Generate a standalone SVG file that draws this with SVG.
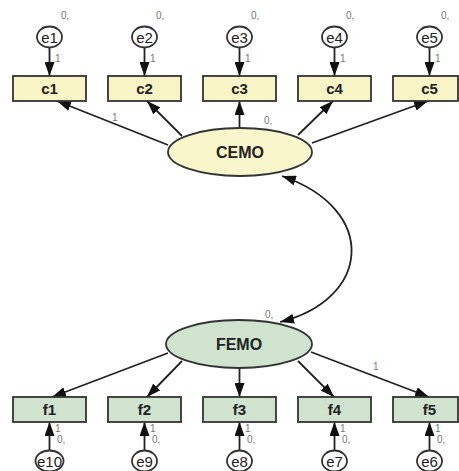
<svg xmlns="http://www.w3.org/2000/svg" width="459" height="471" viewBox="0 0 459 471">
<style>
.bg{fill:#ffffff}
.obsY{fill:#f8f4c6;stroke:#333;stroke-width:1.8}
.obsG{fill:#cfe3cf;stroke:#333;stroke-width:1.8}
.err{fill:#ffffff;stroke:#333;stroke-width:1.8}
.latY{fill:#faf6cc;stroke:#333;stroke-width:1.8}
.latG{fill:#cfe3cf;stroke:#333;stroke-width:1.8}
.lbl{font-family:"Liberation Sans",Arial,sans-serif;font-weight:bold;font-size:15px;fill:#222;text-anchor:middle}
.elbl{font-family:"Liberation Sans",Arial,sans-serif;font-size:15px;fill:#222;text-anchor:middle}
.big{font-family:"Liberation Sans",Arial,sans-serif;font-weight:bold;font-size:16px;fill:#222;text-anchor:middle}
.par{font-family:"Liberation Sans",Arial,sans-serif;font-size:10px;fill:#777}
.con{stroke:#222;stroke-width:1.8;fill:none;marker-end:url(#ah)}
.cov{stroke:#222;stroke-width:1.8;fill:none;marker-start:url(#ah);marker-end:url(#ah)}
</style>
<defs>
<marker id="ah" markerUnits="userSpaceOnUse" markerWidth="14" markerHeight="10" refX="14" refY="5" orient="auto-start-reverse">
<path d="M0,0 L14,5 L0,10 z" fill="#111"/>
</marker>
</defs>
<rect class="bg" x="0" y="0" width="459" height="471"/>
<g id="connectors">
<line class="con" x1="49.5" y1="47" x2="49.5" y2="76"/>
<line class="con" x1="144.5" y1="47" x2="144.5" y2="76"/>
<line class="con" x1="239.5" y1="47" x2="239.5" y2="76"/>
<line class="con" x1="334.5" y1="47" x2="334.5" y2="76"/>
<line class="con" x1="429.5" y1="47" x2="429.5" y2="76"/>
<line class="con" x1="168" y1="145" x2="57" y2="101"/>
<line class="con" x1="182" y1="136" x2="147" y2="101"/>
<line class="con" x1="239.5" y1="128" x2="239.5" y2="101"/>
<line class="con" x1="298" y1="135" x2="333" y2="101"/>
<line class="con" x1="312" y1="143" x2="428" y2="101"/>
<path class="cov" d="M282,176 C380,210 370,300 280,322"/>
<line class="con" x1="168" y1="353" x2="52" y2="397"/>
<line class="con" x1="182" y1="361" x2="147" y2="397"/>
<line class="con" x1="239.5" y1="368" x2="239.5" y2="397"/>
<line class="con" x1="298" y1="361" x2="334" y2="397"/>
<line class="con" x1="311" y1="352" x2="429" y2="397"/>
<line class="con" x1="49.5" y1="451" x2="49.5" y2="422"/>
<line class="con" x1="144.5" y1="451" x2="144.5" y2="422"/>
<line class="con" x1="239.5" y1="451" x2="239.5" y2="422"/>
<line class="con" x1="334.5" y1="451" x2="334.5" y2="422"/>
<line class="con" x1="429.5" y1="451" x2="429.5" y2="422"/>
<text class="par" x="112" y="121">1</text>
<text class="par" x="264" y="124">0,</text>
<text class="par" x="265" y="318">0,</text>
<text class="par" x="373" y="370">1</text>
</g>
<g id="e1"><ellipse class="err" cx="49.5" cy="37" rx="12.5" ry="10.5"/><text class="elbl" x="49.5" y="42.5">e1</text><text class="par" x="61" y="19">0,</text><text class="par" x="55" y="62">1</text></g>
<g id="e2"><ellipse class="err" cx="144.5" cy="37" rx="12.5" ry="10.5"/><text class="elbl" x="144.5" y="42.5">e2</text><text class="par" x="156" y="19">0,</text><text class="par" x="150" y="62">1</text></g>
<g id="e3"><ellipse class="err" cx="239.5" cy="37" rx="12.5" ry="10.5"/><text class="elbl" x="239.5" y="42.5">e3</text><text class="par" x="251" y="19">0,</text><text class="par" x="245" y="62">1</text></g>
<g id="e4"><ellipse class="err" cx="334.5" cy="37" rx="12.5" ry="10.5"/><text class="elbl" x="334.5" y="42.5">e4</text><text class="par" x="346" y="19">0,</text><text class="par" x="340" y="62">1</text></g>
<g id="e5"><ellipse class="err" cx="429.5" cy="37" rx="12.5" ry="10.5"/><text class="elbl" x="429.5" y="42.5">e5</text><text class="par" x="441" y="19">0,</text><text class="par" x="435" y="62">1</text></g>
<g id="c1"><rect class="obsY" x="13" y="76" width="73" height="25"/><text class="lbl" x="49.5" y="94">c1</text></g>
<g id="c2"><rect class="obsY" x="108" y="76" width="73" height="25"/><text class="lbl" x="144.5" y="94">c2</text></g>
<g id="c3"><rect class="obsY" x="203" y="76" width="73" height="25"/><text class="lbl" x="239.5" y="94">c3</text></g>
<g id="c4"><rect class="obsY" x="298" y="76" width="73" height="25"/><text class="lbl" x="334.5" y="94">c4</text></g>
<g id="c5"><rect class="obsY" x="393" y="76" width="65" height="25"/><text class="lbl" x="429.5" y="94">c5</text></g>
<g id="CEMO"><ellipse class="latY" cx="240" cy="152" rx="72" ry="24"/><text class="big" x="240" y="158">CEMO</text></g>
<g id="FEMO"><ellipse class="latG" cx="239" cy="344" rx="73" ry="24"/><text class="big" x="239" y="350">FEMO</text></g>
<g id="f1"><rect class="obsG" x="13" y="397" width="73" height="25"/><text class="lbl" x="49.5" y="415">f1</text></g>
<g id="f2"><rect class="obsG" x="108" y="397" width="73" height="25"/><text class="lbl" x="144.5" y="415">f2</text></g>
<g id="f3"><rect class="obsG" x="203" y="397" width="73" height="25"/><text class="lbl" x="239.5" y="415">f3</text></g>
<g id="f4"><rect class="obsG" x="298" y="397" width="73" height="25"/><text class="lbl" x="334.5" y="415">f4</text></g>
<g id="f5"><rect class="obsG" x="393" y="397" width="65" height="25"/><text class="lbl" x="429.5" y="415">f5</text></g>
<g id="e10"><ellipse class="err" cx="49.5" cy="461" rx="14" ry="10.5"/><text class="elbl" x="49.5" y="466.5">e10</text><text class="par" x="55" y="432">1</text><text class="par" x="57" y="443">0,</text></g>
<g id="e9"><ellipse class="err" cx="144.5" cy="461" rx="12.5" ry="10.5"/><text class="elbl" x="144.5" y="466.5">e9</text><text class="par" x="150" y="432">1</text><text class="par" x="152" y="443">0,</text></g>
<g id="e8"><ellipse class="err" cx="239.5" cy="461" rx="12.5" ry="10.5"/><text class="elbl" x="239.5" y="466.5">e8</text><text class="par" x="245" y="432">1</text><text class="par" x="247" y="443">0,</text></g>
<g id="e7"><ellipse class="err" cx="334.5" cy="461" rx="12.5" ry="10.5"/><text class="elbl" x="334.5" y="466.5">e7</text><text class="par" x="340" y="432">1</text><text class="par" x="342" y="443">0,</text></g>
<g id="e6"><ellipse class="err" cx="429.5" cy="461" rx="12.5" ry="10.5"/><text class="elbl" x="429.5" y="466.5">e6</text><text class="par" x="435" y="432">1</text><text class="par" x="437" y="443">0,</text></g>
</svg>
